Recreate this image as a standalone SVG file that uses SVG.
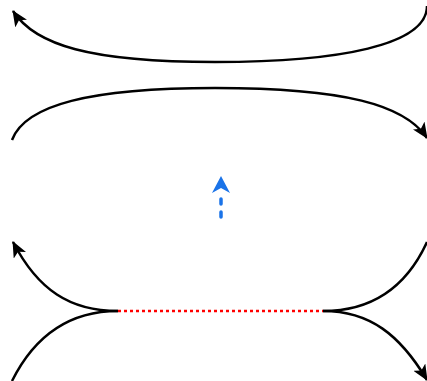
<svg xmlns="http://www.w3.org/2000/svg" width="427" height="381" viewBox="0 0 427 381">
<style>
.c{fill:none;stroke:#000;stroke-width:2.5}
.r{fill:none;stroke:#f00;stroke-width:2.5;stroke-dasharray:3 3}
.b{fill:none;stroke:#1a73e8;stroke-width:3.5;stroke-linecap:round;stroke-dasharray:5 8 5 40}
</style>
<defs>
<marker id="ah" viewBox="0 0 16 14" refX="15" refY="7" markerWidth="16" markerHeight="14" markerUnits="userSpaceOnUse" orient="auto">
<path d="M0,0 L16,7 L0,14 L4,7 Z" fill="#000"/>
</marker>
<marker id="bh" viewBox="0 0 17 18" refX="16" refY="9" markerWidth="17" markerHeight="18" markerUnits="userSpaceOnUse" orient="auto">
<path d="M0,0 L17,9 L0,18 L5,9 Z" fill="#1a73e8"/>
</marker>
</defs>
<g id="connectors">
<path class="c" d="M427 6 C427 45 340 62 215 62 C90 62 35 45 13 11" marker-end="url(#ah)"/>
<path class="c" d="M12 140 C25 105 90 88 215 88 C345 88 405 105 427 138" marker-end="url(#ah)"/>
<path class="r" d="M118 311 L323 311"/>
<path class="c" d="M118 311 C70 311 38 290 13 242" marker-end="url(#ah)"/>
<path class="c" d="M118 311 C70 311 35 335 12 381"/>
<path class="c" d="M323 311 C370 311 405 290 427 242"/>
<path class="c" d="M323 311 C370 311 400 335 427 380" marker-end="url(#ah)"/>
<path class="b" d="M221 217 L221 177" marker-end="url(#bh)"/>
</g>
</svg>
